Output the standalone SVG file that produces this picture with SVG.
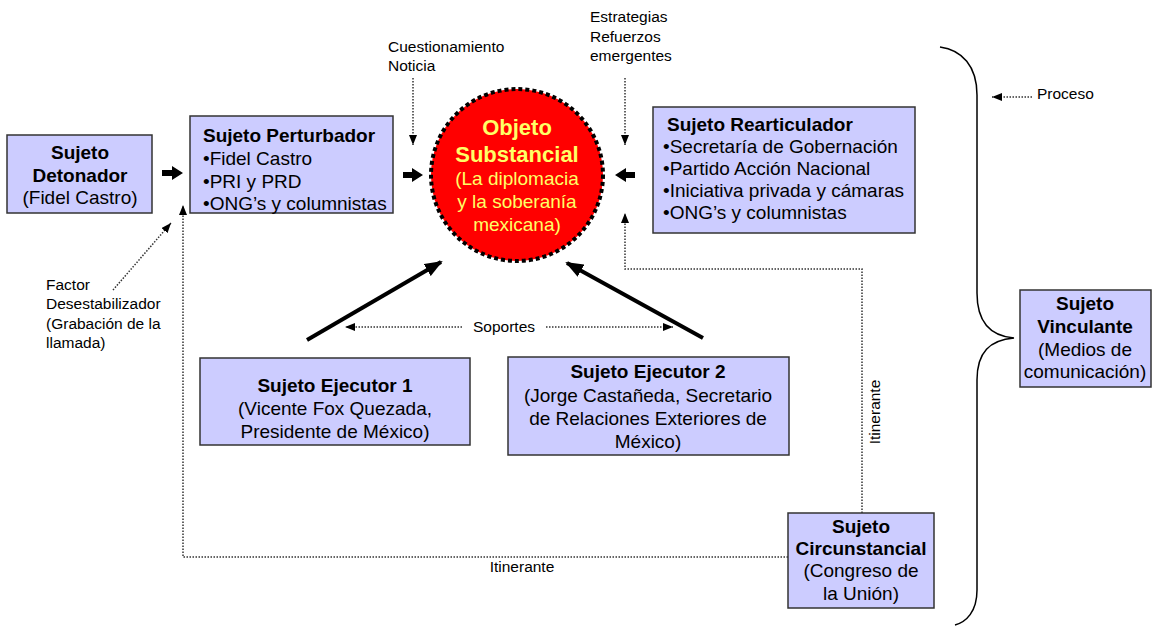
<svg xmlns="http://www.w3.org/2000/svg" width="1154" height="626" viewBox="0 0 1154 626">
<defs>
<style>
.box{fill:#CCCCFF;stroke:#333333;stroke-width:1.5}
.t{font-family:"Liberation Sans",Arial,sans-serif;font-size:19px;fill:#000}
.b{font-weight:bold}
.c{text-anchor:middle}
.lbl{font-family:"Liberation Sans",Arial,sans-serif;font-size:15.5px;fill:#000}
.dot{fill:none;stroke:#333;stroke-width:1.5;stroke-dasharray:1.5 1.5}
.thick{fill:none;stroke:#000;stroke-width:4}
.ot{font-family:"Liberation Sans",Arial,sans-serif;fill:#FFFF66;text-anchor:middle}
</style>
<marker id="ah" viewBox="0 0 10 8" refX="10" refY="4" markerWidth="10" markerHeight="8" markerUnits="userSpaceOnUse" orient="auto"><path d="M0,0 L10,4 L0,8 z" fill="#000"/></marker>
<marker id="ahb" viewBox="0 0 18 14" refX="16" refY="7" markerWidth="18" markerHeight="14" markerUnits="userSpaceOnUse" orient="auto"><path d="M0,0 L18,7 L0,14 z" fill="#000"/></marker>
</defs>
<rect width="1154" height="626" fill="#fff"/>

<g id="connectors">
<path d="M162,170 H172 V166 L183,173 L172,180 V176 H162 z" fill="#000"/>
<path d="M403,172 H412 V168 L423,175 L412,182 V178 H403 z" fill="#000"/>
<path d="M635,172 H626 V168 L615,175 L626,182 V178 H635 z" fill="#000"/>
<line class="thick" x1="307" y1="340" x2="441" y2="262" marker-end="url(#ahb)"/>
<line class="thick" x1="703" y1="338" x2="567" y2="263" marker-end="url(#ahb)"/>
<line class="dot" x1="413" y1="78" x2="413" y2="145" marker-end="url(#ah)"/>
<line class="dot" x1="625" y1="78" x2="625" y2="145" marker-end="url(#ah)"/>
<line class="dot" x1="462" y1="327" x2="345" y2="327" marker-end="url(#ah)"/>
<line class="dot" x1="546" y1="327" x2="673" y2="327" marker-end="url(#ah)"/>
<line class="dot" x1="113" y1="290" x2="171" y2="223" marker-end="url(#ah)"/>
<line class="dot" x1="1032" y1="97" x2="992" y2="97" marker-end="url(#ah)"/>
<polyline class="dot" points="788,557 183,557 183,205" marker-end="url(#ah)"/>
<polyline class="dot" points="862,513 862,269 625,269 625,213" marker-end="url(#ah)"/>
<path d="M940,47 C962,50 977,66 977,95 L977,293 C977,322 990,336 1014,338 C990,340 977,352 977,380 L977,590 C977,612 966,622 955,625" fill="none" stroke="#000" stroke-width="1.5"/>
<text class="lbl" x="388" y="52">Cuestionamiento</text>
<text class="lbl" x="388" y="71">Noticia</text>
<text class="lbl" x="590" y="22">Estrategias</text>
<text class="lbl" x="590" y="42">Refuerzos</text>
<text class="lbl" x="590" y="61">emergentes</text>
<text class="lbl" x="1037" y="99">Proceso</text>
<text class="lbl c" x="504" y="332">Soportes</text>
<text class="lbl" x="46" y="290">Factor</text>
<text class="lbl" x="46" y="309">Desestabilizador</text>
<text class="lbl" x="46" y="329">(Grabación de la</text>
<text class="lbl" x="46" y="348">llamada)</text>
<text class="lbl c" x="522" y="572">Itinerante</text>
<text class="lbl c" x="880" y="412" transform="rotate(-90 880 412)">Itinerante</text>
</g>

<g id="detonador">
<rect class="box" x="7" y="135" width="145" height="78"/>
<text class="t b c" x="80" y="159">Sujeto</text>
<text class="t b c" x="80" y="182">Detonador</text>
<text class="t c" x="80" y="204">(Fidel Castro)</text>
</g>

<g id="perturbador">
<rect class="box" x="190" y="116" width="203" height="97"/>
<text class="t b" x="203" y="142">Sujeto Perturbador</text>
<text class="t" x="203" y="165">•Fidel Castro</text>
<text class="t" x="203" y="188">•PRI y PRD</text>
<text class="t" x="203" y="210">•ONG’s y columnistas</text>
</g>

<g id="objeto">
<circle cx="517" cy="175" r="86" fill="#FF0000" stroke="#000" stroke-width="4" stroke-dasharray="4 3"/>
<text class="ot b" x="517" y="135" font-size="22">Objeto</text>
<text class="ot b" x="517" y="162" font-size="22">Substancial</text>
<text class="ot" x="517" y="185" font-size="19">(La diplomacia</text>
<text class="ot" x="517" y="208" font-size="19">y la soberanía</text>
<text class="ot" x="517" y="231" font-size="19">mexicana)</text>
</g>

<g id="rearticulador">
<rect class="box" x="653" y="107" width="262" height="126"/>
<text class="t b" x="667" y="131">Sujeto Rearticulador</text>
<text class="t" x="663" y="153">•Secretaría de Gobernación</text>
<text class="t" x="663" y="175">•Partido Acción Nacional</text>
<text class="t" x="663" y="197">•Iniciativa privada y cámaras</text>
<text class="t" x="663" y="219">•ONG’s y columnistas</text>
</g>

<g id="ejecutor1">
<rect class="box" x="200" y="358" width="270" height="87"/>
<text class="t b c" x="335" y="392">Sujeto Ejecutor 1</text>
<text class="t c" x="335" y="415">(Vicente Fox Quezada,</text>
<text class="t c" x="335" y="438">Presidente de México)</text>
</g>

<g id="ejecutor2">
<rect class="box" x="508" y="357" width="281" height="98"/>
<text class="t b c" x="648" y="378">Sujeto Ejecutor 2</text>
<text class="t c" x="648" y="402">(Jorge Castañeda, Secretario</text>
<text class="t c" x="648" y="425">de Relaciones Exteriores de</text>
<text class="t c" x="648" y="448">México)</text>
</g>

<g id="circunstancial">
<rect class="box" x="788" y="513" width="146" height="95"/>
<text class="t b c" x="861" y="533">Sujeto</text>
<text class="t b c" x="861" y="555">Circunstancial</text>
<text class="t c" x="861" y="577">(Congreso de</text>
<text class="t c" x="861" y="600">la Unión)</text>
</g>

<g id="vinculante">
<rect class="box" x="1020" y="290" width="131" height="97"/>
<text class="t b c" x="1085" y="310">Sujeto</text>
<text class="t b c" x="1085" y="333">Vinculante</text>
<text class="t c" x="1085" y="356">(Medios de</text>
<text class="t c" x="1085" y="378">comunicación)</text>
</g>
</svg>
